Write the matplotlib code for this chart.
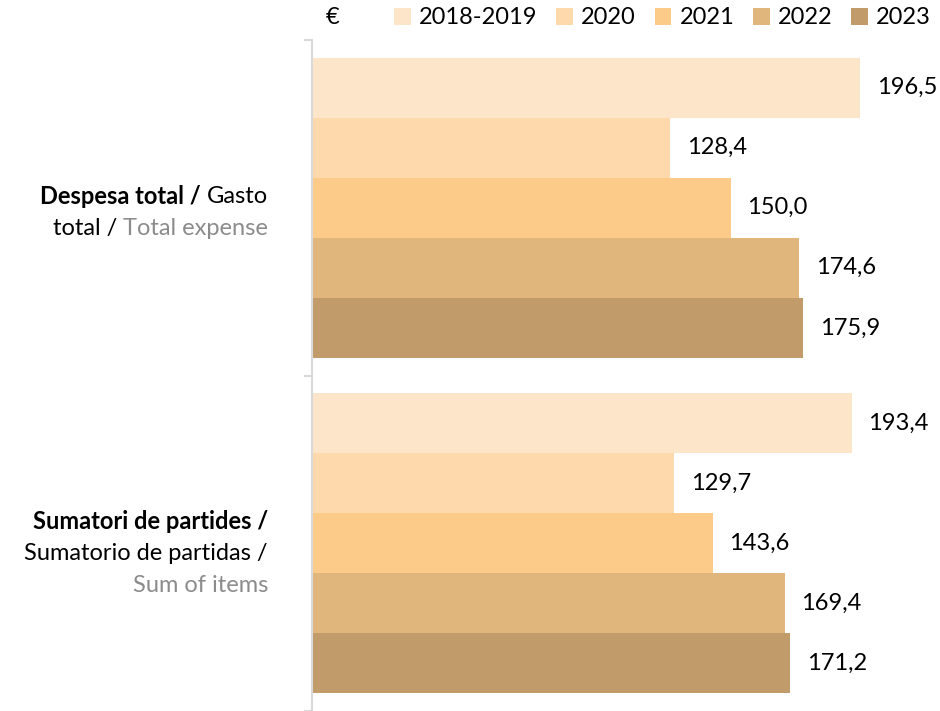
import numpy as np
import matplotlib as mpl
import matplotlib.pyplot as plt

mpl.rc('font', family=['Lato', 'DejaVu Sans'])

series = ['2018-2019', '2020', '2021', '2022', '2023']
colors = ['#FDE5CA', '#FDD9AC', '#FCCB8A', '#E1B67C', '#C19B69']
groups = ['total', 'items']
values = {
    '2018-2019': [196.5, 193.4],
    '2020': [128.4, 129.7],
    '2021': [150.0, 143.6],
    '2022': [174.6, 169.4],
    '2023': [175.9, 171.2],
}

# label pieces per group: list of lines, each a list of (text, weight, color)
label_lines = [
    [[('Despesa total / ', 'bold', 'black'), ('Gasto', 'normal', 'black')],
     [('total / ', 'normal', 'black'), ('Total expense', 'normal', '#8C8C8C')]],
    [[('Sumatori de partides /', 'bold', 'black')],
     [('Sumatorio de partidas /', 'normal', 'black')],
     [('Sum of items', 'normal', '#8C8C8C')]],
]
label_shift = [5, 10]  # px, downward nudge of each label block


def main() -> None:
    fig = plt.figure(figsize=(9.4, 7.11), dpi=100)
    ax = fig.add_axes([0.332, 0.0, 0.668, 0.9437])

    fs = 17
    h = 0.179
    y = np.arange(len(groups))
    for i, s in enumerate(series):
        pos = y - 2 * h + i * h
        bars = ax.barh(pos, values[s], height=h, color=colors[i], label=s,
                       edgecolor='none', zorder=2)
        for b, v in zip(bars, values[s]):
            ax.annotate(f'{v:.1f}'.replace('.', ','),
                        (b.get_width(), b.get_y() + b.get_height() / 2),
                        xytext=(12, 0), textcoords='offset points',
                        ha='left', va='center', fontsize=fs, color='black')

    ax.set_xlim(0, 225)
    ax.set_ylim(1.5, -0.5)
    ax.set_xticks([])
    ax.set_yticks([])
    ax.set_yticks([-0.5, 0.5, 1.5], minor=True)
    ax.tick_params(axis='y', which='minor', length=6, width=1.5,
                   color='#D9D9D9', labelleft=False)
    for sp in ['top', 'right', 'bottom']:
        ax.spines[sp].set_visible(False)
    ax.spines['left'].set_color('#D9D9D9')
    ax.spines['left'].set_linewidth(1.5)

    # category labels, composed piece by piece from the right
    fig.canvas.draw()
    renderer = fig.canvas.get_renderer()
    inv = fig.transFigure.inverted()
    x_right = 268 / 940
    line_h = 32 / 711
    for g, lines in enumerate(label_lines):
        yc = (ax.transData.transform((0, y[g]))[1] - label_shift[g]) / 711
        n = len(lines)
        for k, pieces in enumerate(lines):
            yy = yc + ((n - 1) / 2 - k) * line_h
            xr = x_right
            for text, weight, col in reversed(pieces):
                t = fig.text(xr, yy, text, ha='right', va='center',
                             fontsize=fs, fontweight=weight, color=col)
                bb = t.get_window_extent(renderer)
                xr = inv.transform((bb.x0, bb.y0))[0]

    fig.text(333 / 940, 1 - 18 / 711, '€', ha='center', va='center',
             fontsize=fs)
    fig.legend(
        ncol=5,
        loc='center right',
        bbox_to_anchor=(1.003, 1 - 18 / 711),
        frameon=False,
        fontsize=fs,
        handlelength=0.7,
        handleheight=0.7,
        handletextpad=0.35,
        columnspacing=0.8,
        borderpad=0,
    )

    fig.savefig('out.png', dpi=100)


if __name__ == '__main__':
    main()
